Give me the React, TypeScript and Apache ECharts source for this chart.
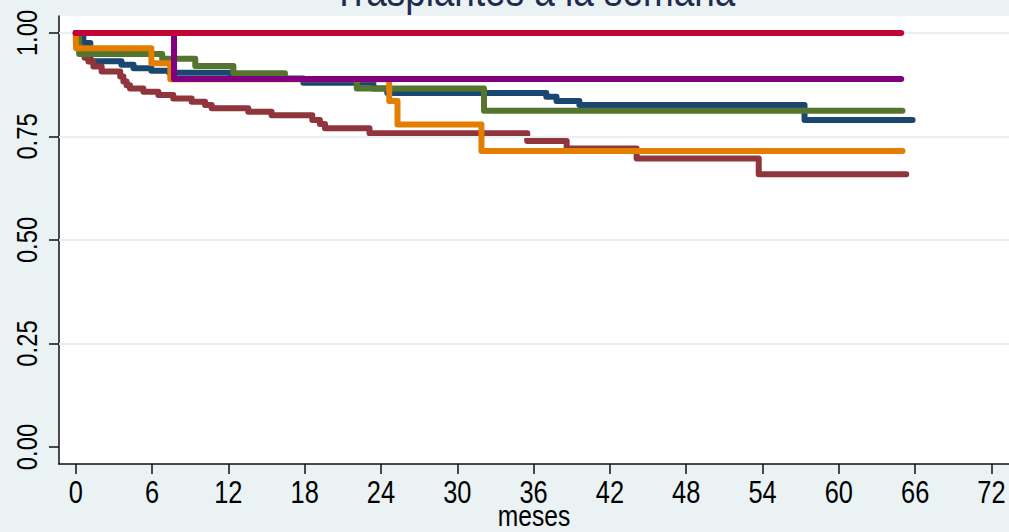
import React, { useEffect, useRef } from "react";
import * as echarts from "echarts";

const titleText = "Trasplantes a la semana";
const xAxisTitle = "meses";
const xTicks = [0, 6, 12, 18, 24, 30, 36, 42, 48, 54, 60, 66, 72];
const yTicks = [0, 0.25, 0.5, 0.75, 1];
const yGridLines = [0.25, 0.5, 0.75, 1];

// Kaplan-Meier step curves: time (months) and survival after each time
const navyT = [0, 0.6, 1.15, 3.6, 4.55, 5.95, 7.35, 12.2, 17.9, 23.4, 24.5, 37.0, 37.8, 39.6, 57.3, 65.8];
const navyS = [1, 0.976, 0.932, 0.923, 0.915, 0.909, 0.904, 0.89, 0.88, 0.866, 0.855, 0.846, 0.836, 0.826, 0.79, 0.79];

const maroonT = [0, 0.15, 0.4, 0.7, 1.0, 1.39, 2.04, 3.5, 3.75, 4.0, 4.27, 5.32, 6.5, 7.67, 9.12, 10.17, 10.69, 13.57, 15.4, 18.6, 19.2, 19.6, 23.1, 35.5, 38.6, 44.1, 53.7, 65.3];
const maroonS = [1, 0.97, 0.955, 0.94, 0.931, 0.919, 0.907, 0.895, 0.883, 0.874, 0.866, 0.858, 0.85, 0.842, 0.834, 0.826, 0.818, 0.81, 0.801, 0.79, 0.78, 0.77, 0.758, 0.739, 0.721, 0.697, 0.659, 0.659];

const greenT = [0, 0.27, 6.8, 9.4, 12.4, 16.45, 22.1, 32.1, 65.0];
const greenS = [1, 0.949, 0.938, 0.92, 0.903, 0.889, 0.866, 0.812, 0.812];

const orangeT = [0, 0.03, 5.95, 7.44, 24.65, 25.3, 31.9, 65.0];
const orangeS = [1, 0.963, 0.927, 0.888, 0.836, 0.779, 0.715, 0.715];

const purpleT = [0, 7.73, 64.9];
const purpleS = [1, 0.889, 0.889];

const redT = [0, 64.9];
const redS = [1, 1];

const groups = [
  { name: "g1", t: navyT, s: navyS, color: "#1A476F" },
  { name: "g2", t: maroonT, s: maroonS, color: "#90353B" },
  { name: "g3", t: greenT, s: greenS, color: "#55752F" },
  { name: "g4", t: orangeT, s: orangeS, color: "#E37E00" },
  { name: "g5", t: purpleT, s: purpleS, color: "#800080" },
  { name: "g6", t: redT, s: redS, color: "#C10534" },
];

const FONT = "'Liberation Sans', Arial, sans-serif";
const NARROW = 0.82;

export default function App() {
  const ref = useRef<HTMLDivElement>(null);
  useEffect(() => {
    document.body.style.margin = "0";
    const chart = echarts.init(ref.current!, null, { renderer: "svg" });
    const series: any[] = [
      {
        type: "line",
        name: "grid",
        data: [],
        z: 1,
        silent: true,
        markLine: {
          silent: true,
          symbol: "none",
          label: { show: false },
          lineStyle: { color: "#E6EFF1", width: 2, type: "solid" },
          data: yGridLines.map((v) => ({ yAxis: v })),
        },
      },
    ];
    groups.forEach((g, i) => {
      series.push({
        type: "line",
        name: g.name,
        step: "end",
        showSymbol: false,
        z: 2 + i,
        data: g.t.map((t, k) => [t, g.s[k]]),
        lineStyle: { color: g.color, width: 6, cap: "round", join: "round" },
      });
    });
    const xMin = -1.313;
    const xMax = 73.376;
    chart.setOption({
      animation: false,
      backgroundColor: "#EAF2F3",
      grid: {
        left: 59,
        top: 16,
        right: 0,
        bottom: 68,
        show: true,
        backgroundColor: "#ffffff",
        borderWidth: 0,
        containLabel: false,
        outerBoundsMode: "none",
      },
      xAxis: {
        type: "value",
        min: xMin,
        max: xMax,
        axisLine: { show: true, onZero: false, lineStyle: { color: "#111", width: 1.5 } },
        axisTick: { show: true, customValues: xTicks, length: 10, lineStyle: { color: "#111", width: 1.5 } },
        axisLabel: { show: false, customValues: xTicks },
        splitLine: { show: false },
      },
      yAxis: {
        type: "value",
        min: -0.041,
        max: 1.041,
        axisLine: { show: true, onZero: false, lineStyle: { color: "#111", width: 1.5 } },
        axisTick: { show: true, customValues: yTicks, length: 10, lineStyle: { color: "#111", width: 1.5 } },
        axisLabel: { show: false, customValues: yTicks },
        splitLine: { show: false },
      },
      series,
    });

    const graphics: any[] = [];
    xTicks.forEach((v) => {
      const px = chart.convertToPixel({ xAxisIndex: 0 }, v) as number;
      graphics.push({
        type: "text",
        x: px,
        y: 492,
        scaleX: NARROW,
        style: {
          text: String(v),
          fontFamily: FONT,
          fontSize: 31,
          fill: "#000",
          textAlign: "center",
          textVerticalAlign: "middle",
        },
      });
    });
    yTicks.forEach((v) => {
      const py = chart.convertToPixel({ yAxisIndex: 0 }, v) as number;
      graphics.push({
        type: "text",
        x: 27.5,
        y: py,
        rotation: Math.PI / 2,
        scaleX: NARROW,
        style: {
          text: v.toFixed(2),
          fontFamily: FONT,
          fontSize: 29,
          fill: "#000",
          textAlign: "center",
          textVerticalAlign: "middle",
        },
      });
    });
    const midX = chart.convertToPixel({ xAxisIndex: 0 }, (xMin + xMax) / 2) as number;
    graphics.push({
      type: "text",
      x: midX,
      y: 516,
      scaleX: NARROW,
      style: {
        text: xAxisTitle,
        fontFamily: FONT,
        fontSize: 30,
        fill: "#000",
        textAlign: "center",
        textVerticalAlign: "middle",
      },
    });
    graphics.push({
      type: "text",
      x: midX,
      y: -9,
      scaleX: NARROW,
      style: {
        text: titleText,
        fontFamily: FONT,
        fontSize: 45,
        fill: "#1E2D4F",
        textAlign: "center",
        textVerticalAlign: "middle",
      },
    });
    chart.setOption({ graphic: graphics });
    return () => chart.dispose();
  }, []);
  return <div ref={ref} style={{ position: "absolute", left: 0, top: 0, width: 1009, height: 532 }} />;
}
